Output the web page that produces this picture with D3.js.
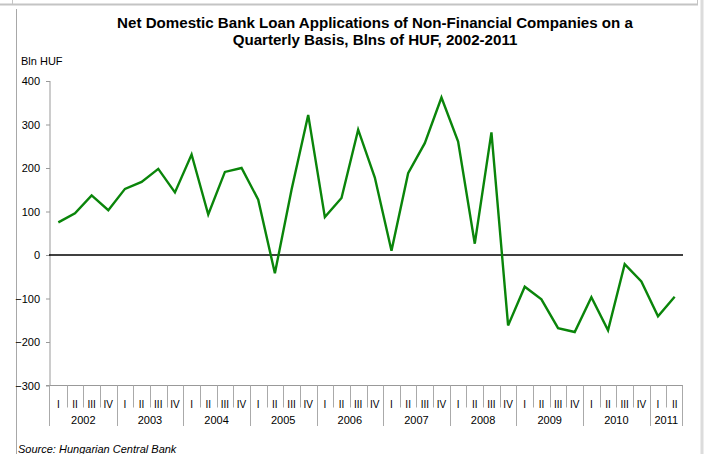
<!DOCTYPE html>
<html>
<head>
<meta charset="utf-8">
<script src="https://cdn.jsdelivr.net/npm/d3@7"></script>
<style>
  html, body { margin: 0; padding: 0; background: #fff; }
  svg { display: block; font-family: "Liberation Sans", Arial, sans-serif; }
</style>
</head>
<body>
<svg id="chart" width="704" height="454"></svg>
<script>
// Quarterly net loan applications, billions of HUF
const years = ["2002", "2003", "2004", "2005", "2006", "2007", "2008", "2009", "2010", "2011"];
const quarters = ["I", "II", "III", "IV"];
const values = [
  75, 96, 137, 103,
  152, 168, 198, 144,
  231, 93, 191, 200,
  127, -42, 150, 322,
  87, 131, 288, 178,
  10, 188, 257, 362,
  261, 26, 282, -162,
  -73, -102, -168, -177,
  -97, -173, -21, -61,
  -141, -96
];
const yTicks = [400, 300, 200, 100, 0, -100, -200, -300];

const titleLines = [
  "Net Domestic Bank Loan Applications of Non-Financial Companies on a",
  "Quarterly Basis, Blns of HUF, 2002-2011"
];

// one entry per quarter
const periods = values.map((v, i) => ({
  key: years[Math.floor(i / 4)] + "-" + quarters[i % 4],
  year: years[Math.floor(i / 4)],
  q: quarters[i % 4],
  value: v
}));

const svg = d3.select("#chart");

// frame lines
svg.append("line").attr("x1", 0).attr("x2", 698).attr("y1", 4.5).attr("y2", 4.5)
  .attr("stroke", "#c4c4c4").attr("stroke-width", 2);
svg.append("line").attr("x1", 12.5).attr("x2", 12.5).attr("y1", 0).attr("y2", 5)
  .attr("stroke", "#c4c4c4");
svg.append("line").attr("x1", 697.5).attr("x2", 697.5).attr("y1", 0).attr("y2", 5)
  .attr("stroke", "#c4c4c4");
svg.append("line").attr("x1", 16.5).attr("x2", 16.5).attr("y1", 9).attr("y2", 454)
  .attr("stroke", "#a8a8a8");
svg.append("line").attr("x1", 702).attr("x2", 702).attr("y1", 0).attr("y2", 454)
  .attr("stroke", "#dcdcdc").attr("stroke-width", 3);

// title, slightly widened
svg.append("g").attr("transform", "translate(375,0) scale(1.08,1)")
  .append("text")
  .attr("x", 0).attr("y", 28.5)
  .attr("text-anchor", "middle")
  .attr("font-size", 14).attr("font-weight", "bold").attr("fill", "#000")
  .selectAll("tspan").data(titleLines).join("tspan")
  .attr("x", 0).attr("dy", (d, i) => i === 0 ? 0 : 17)
  .text(d => d);

svg.append("text").attr("x", 21).attr("y", 65)
  .attr("font-size", 11).attr("fill", "#000").text("Bln HUF");

const x = d3.scaleBand().domain(periods.map(d => d.key)).range([50, 683]).padding(0);
const y = d3.scaleLinear().domain([-300, 400]).range([385.5, 81]);

// y axis
const yAxis = d3.axisLeft(y).tickValues(yTicks).tickSize(4).tickPadding(6)
  .tickFormat(d3.format("d"));
const gy = svg.append("g").attr("transform", "translate(50,0)").call(yAxis);
gy.select(".domain").attr("stroke", "#999").attr("d", `M0,${y(400)}V${y(-300)}`);
gy.selectAll(".tick line").attr("stroke", "#999");
gy.selectAll(".tick text").attr("font-size", 11).attr("fill", "#000")
  .attr("font-family", "'Liberation Sans', Arial, sans-serif");

// x axis baseline at the bottom of the value range
svg.append("line").attr("x1", 46).attr("x2", 683).attr("y1", y(-300)).attr("y2", y(-300))
  .attr("stroke", "#999");

// quarter separators and labels
const qBottom = 407.5, yBottom = 426;
svg.append("g").selectAll("line").data(periods.slice(1)).join("line")
  .attr("x1", d => Math.round(x(d.key)) + 0.5).attr("x2", d => Math.round(x(d.key)) + 0.5)
  .attr("y1", y(-300)).attr("y2", d => d.q === "I" ? yBottom : qBottom)
  .attr("stroke", "#aaa");
// outer edges of the category axis
[50, 683].forEach(px => {
  svg.append("line").attr("x1", px - 0.5).attr("x2", px - 0.5)
    .attr("y1", y(-300)).attr("y2", yBottom).attr("stroke", "#aaa");
});

svg.append("g").selectAll("text").data(periods).join("text")
  .attr("x", d => x(d.key) + x.bandwidth() / 2).attr("y", 407.5)
  .attr("text-anchor", "middle").attr("font-size", 10).attr("fill", "#000")
  .text(d => d.q);

// year labels centred over their quarters
const yearGroups = d3.groups(periods, d => d.year);
svg.append("g").selectAll("text").data(yearGroups).join("text")
  .attr("x", ([, ps]) => (x(ps[0].key) + x(ps[ps.length - 1].key) + x.bandwidth()) / 2)
  .attr("y", 423.5).attr("text-anchor", "middle").attr("font-size", 11).attr("fill", "#000")
  .text(([yr]) => yr);

// zero line
svg.append("line").attr("x1", 49).attr("x2", 683).attr("y1", y(0)).attr("y2", y(0))
  .attr("stroke", "#000").attr("stroke-width", 1.3);

// series line
const line = d3.line().x(d => x(d.key) + x.bandwidth() / 2).y(d => y(d.value));
svg.append("path").datum(periods)
  .attr("fill", "none").attr("stroke", "#0a850a").attr("stroke-width", 2.4)
  .attr("stroke-linejoin", "miter").attr("d", line);

// source note
svg.append("text").attr("x", 18).attr("y", 453)
  .attr("font-size", 11).attr("font-style", "italic").attr("fill", "#000")
  .text("Source: Hungarian Central Bank");
</script>
</body>
</html>
